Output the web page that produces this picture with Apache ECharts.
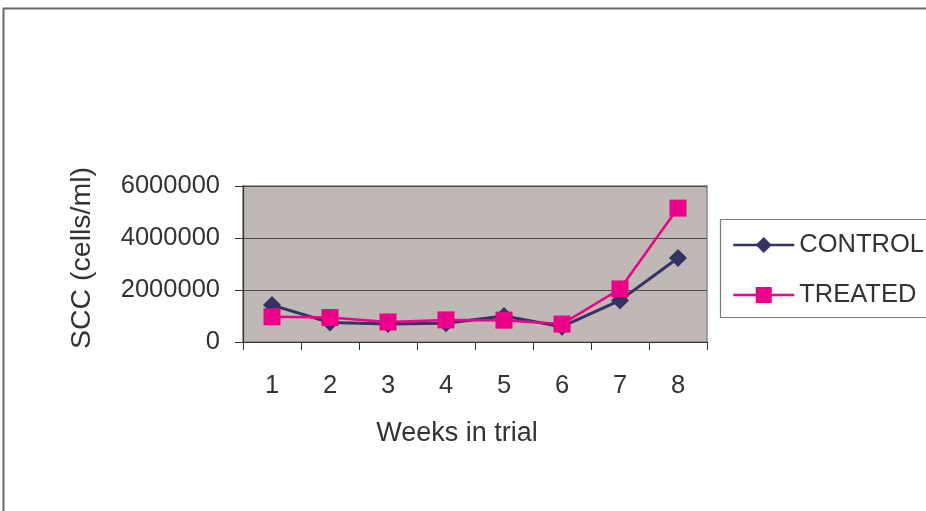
<!DOCTYPE html>
<html>
<head>
<meta charset="utf-8">
<script src="https://cdn.jsdelivr.net/npm/echarts@6/dist/echarts.min.js"></script>
<style>
  html, body { margin: 0; padding: 0; background: #ffffff; }
  #chart { width: 926px; height: 511px; }
</style>
</head>
<body>
<div id="chart"></div>
<script>
// Somatic cell count per week of the trial
const weeks = ['1', '2', '3', '4', '5', '6', '7', '8'];
const controlScc = [1420000, 750000, 690000, 720000, 1000000, 590000, 1600000, 3230000];
const treatedScc = [970000, 940000, 770000, 850000, 840000, 690000, 2040000, 5150000];
const yTicks = { min: 0, max: 6000000, interval: 2000000 };

const FONT = 'Liberation Sans, Arial, sans-serif';
const TEXT = '#333333';
const NAVY = '#333366';
const MAGENTA = '#ec008a';

const chart = echarts.init(document.getElementById('chart'), null, { renderer: 'canvas' });

chart.setOption({
  backgroundColor: '#ffffff',
  animation: false,
  graphic: [
    {
      // outer frame of the chart area
      type: 'rect',
      shape: { x: 3.5, y: 8.5, width: 1000, height: 1000 },
      style: { fill: 'none', stroke: '#6a6a6a', lineWidth: 2 },
      z: 0
    },
    {
      // legend frame
      type: 'rect',
      shape: { x: 720.5, y: 219.5, width: 300, height: 98 },
      style: { fill: '#ffffff', stroke: '#7a7a7a', lineWidth: 1.2 },
      z: 1
    }
  ],
  grid: {
    left: 243, top: 186, right: 219, bottom: 169,
    show: true,
    backgroundColor: '#c0b8b5',
    borderColor: '#8c8482',
    borderWidth: 1.5
  },
  legend: {
    orient: 'vertical',
    left: 732,
    top: 232,
    padding: 0,
    itemWidth: 61,
    itemHeight: 20,
    itemGap: 24,
    z: 5,
    lineStyle: { width: 2.5 },
    textStyle: { fontFamily: FONT, fontSize: 25.5, color: TEXT },
    data: ['CONTROL', 'TREATED']
  },
  xAxis: {
    type: 'category',
    data: weeks,
    boundaryGap: true,
    name: 'Weeks in trial',
    nameLocation: 'middle',
    nameGap: 78,
    nameTextStyle: { fontFamily: FONT, fontSize: 27, color: TEXT, padding: [0, 36, 0, 0] },
    axisLine: { show: true, lineStyle: { color: '#333333', width: 1.2 } },
    axisTick: { show: true, interval: 0, length: 8, lineStyle: { color: '#333333' } },
    axisLabel: { fontFamily: FONT, fontSize: 25.5, color: TEXT, margin: 31, interval: 0 },
    splitLine: { show: false }
  },
  yAxis: {
    type: 'value',
    min: yTicks.min,
    max: yTicks.max,
    interval: yTicks.interval,
    name: 'SCC (cells/ml)',
    nameLocation: 'middle',
    nameGap: 146,
    nameTextStyle: { fontFamily: FONT, fontSize: 28.5, color: TEXT, padding: [0, 0, 0, 12] },
    axisLine: { show: true, lineStyle: { color: '#333333', width: 1.2 } },
    axisTick: { show: true, length: 8, lineStyle: { color: '#333333' } },
    axisLabel: {
      fontFamily: FONT, fontSize: 25.5, color: TEXT, margin: 23,
      formatter: (v) => String(v)
    },
    splitLine: { show: true, lineStyle: { color: '#4a4a4a', width: 1 } }
  },
  series: [
    {
      name: 'CONTROL',
      type: 'line',
      data: controlScc,
      symbol: 'diamond',
      symbolSize: 18,
      color: NAVY,
      lineStyle: { color: NAVY, width: 3 },
      itemStyle: { color: NAVY },
      z: 3
    },
    {
      name: 'TREATED',
      type: 'line',
      data: treatedScc,
      symbol: 'rect',
      symbolSize: 17,
      color: MAGENTA,
      lineStyle: { color: MAGENTA, width: 2.5 },
      itemStyle: { color: MAGENTA },
      z: 4
    }
  ]
});
</script>
</body>
</html>
